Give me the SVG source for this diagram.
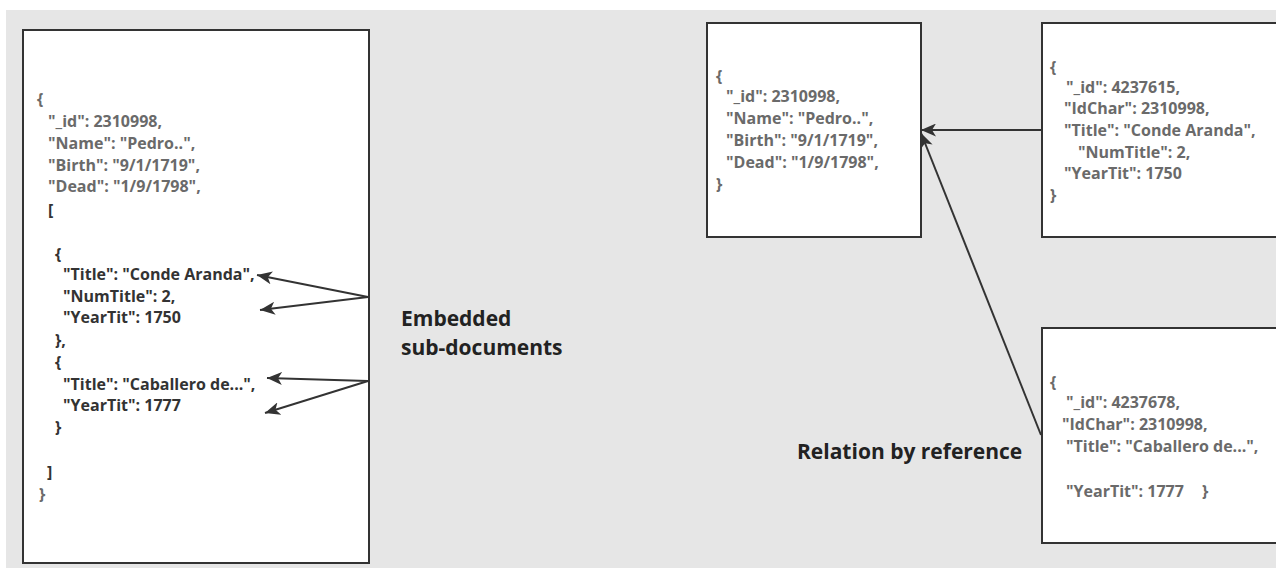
<svg xmlns="http://www.w3.org/2000/svg" width="1276" height="568" viewBox="0 0 1276 568">
  <style>
    .box { fill: #ffffff; stroke: #333333; stroke-width: 2; }
    .code { font-family: "Open Sans", "Noto Sans", sans-serif; font-weight: 700; font-size: 16px; }
    .g { fill: #6a6a6a; }
    .d { fill: #333333; }
    .label { font-family: "Open Sans", "Noto Sans", sans-serif; font-weight: 700; font-size: 21px; fill: #222222; }
    .conn { stroke: #333333; stroke-width: 2; fill: none; }
  </style>
  <defs>
    <marker id="arrow" markerUnits="userSpaceOnUse" markerWidth="15" markerHeight="13" refX="15" refY="6.5" orient="auto" viewBox="0 0 15 13">
      <path d="M0,0 L15,6.5 L0,13 L4,6.5 Z" fill="#333333"/>
    </marker>
  </defs>
  <rect x="0" y="0" width="1276" height="568" fill="#ffffff"/>
  <rect x="6" y="10" width="1270" height="558" fill="#e6e6e6"/>

  <g id="node-embedded">
    <rect class="box" x="23" y="30" width="346" height="533"/>
    <g class="code">
      <text class="g" x="37" y="105">{</text>
      <text class="g" x="48" y="127">"_id": 2310998,</text>
      <text class="g" x="48" y="149">"Name": "Pedro..",</text>
      <text class="g" x="48" y="171">"Birth": "9/1/1719",</text>
      <text class="g" x="48" y="192">"Dead": "1/9/1798",</text>
      <text class="d" x="48" y="216">[</text>
      <text class="d" x="55" y="260">{</text>
      <text class="d" x="63" y="280">"Title": "Conde Aranda",</text>
      <text class="d" x="63" y="302">"NumTitle": 2,</text>
      <text class="d" x="63" y="323">"YearTit": 1750</text>
      <text class="d" x="55" y="346">},</text>
      <text class="d" x="55" y="368">{</text>
      <text class="d" x="63" y="390">"Title": "Caballero de...",</text>
      <text class="d" x="63" y="411">"YearTit": 1777</text>
      <text class="d" x="55" y="433">}</text>
      <text class="d" x="47" y="478">]</text>
      <text class="g" x="39" y="500">}</text>
    </g>
  </g>

  <g id="label-embedded">
    <text class="label" x="401" y="326">Embedded</text>
    <text class="label" x="401" y="355">sub-documents</text>
  </g>

  <g id="node-character">
    <rect class="box" x="707" y="23" width="214" height="214"/>
    <g class="code g">
      <text x="716" y="82">{</text>
      <text x="726" y="102">"_id": 2310998,</text>
      <text x="726" y="124">"Name": "Pedro..",</text>
      <text x="726" y="146">"Birth": "9/1/1719",</text>
      <text x="726" y="168">"Dead": "1/9/1798",</text>
      <text x="716" y="190">}</text>
    </g>
  </g>

  <g id="node-title1">
    <rect class="box" x="1042" y="23" width="240" height="214"/>
    <g class="code g">
      <text x="1050" y="73">{</text>
      <text x="1066" y="93">"_id": 4237615,</text>
      <text x="1064" y="114">"IdChar": 2310998,</text>
      <text x="1064" y="136">"Title": "Conde Aranda",</text>
      <text x="1078" y="158">"NumTitle": 2,</text>
      <text x="1064" y="179">"YearTit": 1750</text>
      <text x="1050" y="201">}</text>
    </g>
  </g>

  <g id="node-title2">
    <rect class="box" x="1042" y="328" width="240" height="215"/>
    <g class="code g">
      <text x="1050" y="388">{</text>
      <text x="1066" y="408">"_id": 4237678,</text>
      <text x="1062" y="430">"IdChar": 2310998,</text>
      <text x="1066" y="452">"Title": "Caballero de...",</text>
      <text x="1066" y="497">"YearTit": 1777</text>
      <text x="1202" y="497">}</text>
    </g>
  </g>

  <g id="label-reference">
    <text class="label" x="797" y="459">Relation by reference</text>
  </g>

  <g id="connectors">
    <line class="conn" x1="368" y1="297" x2="257" y2="275" marker-end="url(#arrow)"/>
    <line class="conn" x1="368" y1="297" x2="260" y2="310" marker-end="url(#arrow)"/>
    <line class="conn" x1="368" y1="381" x2="267" y2="378" marker-end="url(#arrow)"/>
    <line class="conn" x1="368" y1="381" x2="265" y2="413" marker-end="url(#arrow)"/>
    <line class="conn" x1="1042" y1="130" x2="921" y2="130" marker-end="url(#arrow)"/>
    <line class="conn" x1="1041" y1="435" x2="921" y2="133" marker-end="url(#arrow)"/>
  </g>
</svg>
